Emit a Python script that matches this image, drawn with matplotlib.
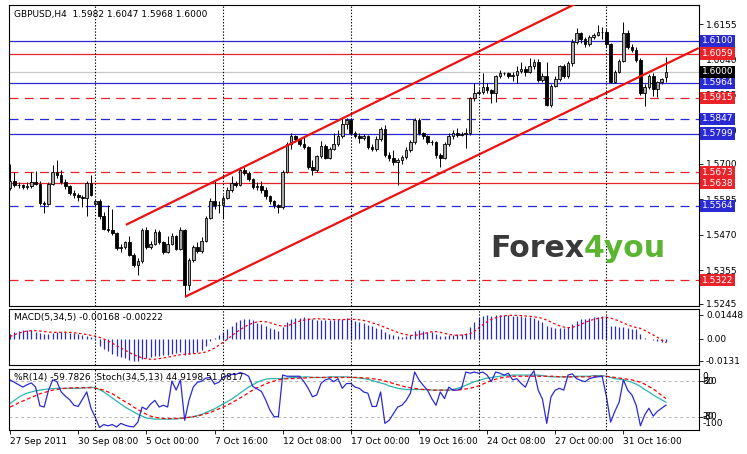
import numpy as np
import matplotlib.pyplot as plt

plt.rcParams['font.family'] = ['DejaVu Sans']
FS = 6.5

# ---- GBPUSD H4 candles (price * 10000) ----
opens = [15622, 15643, 15632, 15630, 15625, 15628, 15642, 15636, 15573, 15570,
         15635, 15675, 15665, 15640, 15627, 15605, 15598, 15594, 15588, 15637,
         15570, 15578, 15530, 15490, 15485, 15475, 15426, 15430, 15445, 15405,
         15372, 15385, 15485, 15430, 15440, 15480, 15445, 15415, 15440, 15465,
         15425, 15485, 15305, 15388, 15430, 15418, 15450, 15525, 15580, 15565,
         15568, 15590, 15616, 15637, 15632, 15680, 15672, 15650, 15625, 15628,
         15615, 15595, 15578, 15565, 15560, 15675, 15765, 15790, 15780, 15765,
         15755, 15690, 15680, 15725, 15760, 15720, 15750, 15765, 15790, 15830,
         15843, 15800, 15792, 15785, 15790, 15756, 15748, 15780, 15815, 15730,
         15718, 15705, 15712, 15722, 15745, 15770, 15843, 15800, 15790, 15772,
         15770, 15730, 15720, 15765, 15790, 15800, 15795, 15798, 15800, 15913,
         15930, 15935, 15951, 15940, 15930, 15985, 15997, 15995, 15985, 15990,
         16003, 16010, 16000, 16017, 16033, 15973, 15985, 15892, 15955, 15975,
         16017, 15985, 16027, 16098, 16125, 16105, 16090, 16114, 16120, 16128,
         16130, 16090, 15968, 16000, 16035, 16125, 16082, 16071, 16038, 15930,
         15950, 15985, 15945, 15965, 15982]
highs = [15700, 15675, 15640, 15635, 15640, 15675, 15676, 15645, 15580, 15640,
         15697, 15713, 15680, 15650, 15632, 15615, 15605, 15600, 15645, 15665,
         15585, 15585, 15545, 15565, 15555, 15480, 15440, 15450, 15465, 15410,
         15395, 15492, 15495, 15448, 15488, 15485, 15450, 15465, 15475, 15470,
         15495, 15490, 15395, 15435, 15445, 15462, 15530, 15590, 15645, 15580,
         15600, 15625, 15660, 15645, 15690, 15690, 15678, 15655, 15640, 15645,
         15625, 15600, 15582, 15570, 15680, 15772, 15800, 15795, 15785, 15790,
         15760, 15712, 15730, 15775, 15765, 15755, 15800, 15810, 15849, 15849,
         15850, 15808, 15800, 15798, 15795, 15765, 15790, 15820, 15826, 15740,
         15745, 15720, 15728, 15755, 15778, 15848, 15848, 15805, 15795, 15778,
         15775, 15735, 15770, 15800, 15810, 15818, 15805, 15818, 15918, 15962,
         15945, 15995, 15962, 15945, 15990, 16006, 16000, 16000, 15998, 16017,
         16033, 16017, 16044, 16040, 16040, 15995, 16030, 15960, 15985, 16022,
         16025, 16035, 16105, 16141, 16130, 16112, 16120, 16125, 16152, 16145,
         16138, 16095, 16005, 16040, 16163, 16135, 16090, 16080, 16045, 15960,
         15992, 15995, 15970, 15980, 16047]
lows = [15615, 15625, 15622, 15618, 15617, 15622, 15630, 15568, 15540, 15565,
        15630, 15655, 15635, 15620, 15600, 15590, 15578, 15561, 15530, 15595,
        15560, 15520, 15485, 15480, 15470, 15420, 15415, 15425, 15400, 15365,
        15340, 15378, 15425, 15425, 15435, 15440, 15408, 15410, 15435, 15420,
        15420, 15268, 15290, 15380, 15412, 15412, 15445, 15520, 15555, 15540,
        15525, 15585, 15610, 15625, 15628, 15665, 15645, 15620, 15615, 15605,
        15585, 15570, 15558, 15541, 15555, 15670, 15750, 15770, 15760, 15748,
        15685, 15665, 15675, 15720, 15715, 15715, 15745, 15760, 15785, 15815,
        15795, 15785, 15767, 15778, 15750, 15742, 15742, 15775, 15722, 15710,
        15695, 15632, 15700, 15715, 15740, 15765, 15795, 15780, 15765, 15762,
        15718, 15691, 15715, 15760, 15782, 15788, 15790, 15752, 15795, 15905,
        15925, 15928, 15930, 15897, 15903, 15980, 15988, 15980, 15970, 15962,
        15995, 15985, 15995, 16010, 15968, 15965, 15887, 15885, 15950, 15970,
        15980, 15980, 16020, 16090, 16095, 16082, 16085, 16105, 16115, 16105,
        16082, 15962, 15962, 15995, 16030, 16075, 16065, 16030, 15925, 15887,
        15945, 15920, 15919, 15960, 15968]
closes = [15643, 15632, 15630, 15625, 15628, 15642, 15636, 15573, 15570, 15635,
          15675, 15665, 15640, 15627, 15605, 15598, 15594, 15588, 15637, 15600,
          15578, 15530, 15490, 15485, 15475, 15426, 15430, 15445, 15405, 15372,
          15385, 15485, 15430, 15440, 15480, 15445, 15415, 15440, 15465, 15425,
          15485, 15305, 15388, 15430, 15418, 15450, 15525, 15580, 15565, 15568,
          15590, 15616, 15637, 15632, 15680, 15672, 15650, 15625, 15628, 15615,
          15595, 15578, 15565, 15560, 15675, 15765, 15790, 15780, 15765, 15755,
          15690, 15680, 15725, 15760, 15720, 15750, 15765, 15790, 15830, 15843,
          15800, 15792, 15785, 15790, 15756, 15748, 15780, 15815, 15730, 15718,
          15705, 15712, 15722, 15745, 15770, 15843, 15800, 15790, 15772, 15770,
          15730, 15720, 15765, 15790, 15800, 15795, 15798, 15800, 15913, 15930,
          15935, 15951, 15940, 15930, 15985, 15997, 15995, 15985, 15990, 16003,
          16010, 16000, 16017, 16033, 15973, 15985, 15892, 15955, 15975, 16017,
          15985, 16027, 16098, 16125, 16105, 16090, 16114, 16120, 16128, 16130,
          16090, 15968, 16000, 16035, 16125, 16082, 16071, 16038, 15930, 15950,
          15985, 15945, 15965, 15975, 16000]

# ---- MACD(5,34,5), units of 0.0001 ----
macd_hist = [30, 40, 48, 52, 55, 52, 45, 38, 30, 32, 38, 42, 44, 42, 38, 34, 30, 24, 18, 14, 8,
             -40, -60, -75, -88, -100, -108, -115, -124, -130, -131,
             -118, -115, -110, -104, -100, -98, -94, -88, -86, -80,
             -95, -92, -84, -78, -66, -40, -15, 5, 25, 45,
             62, 78, 100, 115, 122, 120, 112, 96, 88, 78,
             68, 58, 50, 72, 100, 120, 128, 128,
             135, 125, 118, 114, 112, 112, 114, 116, 118, 122,
             124, 118, 110, 102, 94, 86, 76, 66, 58, 42,
             30, 22, 16, 14, 18, 24, 48, 52, 50, 44,
             40, 30, 20, 18, 22, 26, 28, 30, 34, 70,
             100, 125, 138, 142, 140, 144, 145, 144, 142, 140,
             138, 136, 132, 130, 126, 112, 100, 80, 70, 66,
             68, 66, 72, 90, 108, 118, 122, 126, 130, 134,
             138, 140, 80, 76, 72, 70, 64, 62, 58, 30, 6, 0, -8, -14, -16, -16.8]
macd_signal = [15, 25, 35, 42, 48, 50, 50, 48, 45, 42, 40, 40, 41, 41, 40, 38, 35, 31, 27, 22, 17,
               10, 0, -12, -26, -40, -54, -68, -82, -94, -105,
               -114, -120, -122, -122, -119, -114, -110, -105, -100, -95,
               -92, -90, -89, -87, -84, -78, -68, -55,
               -38, -20, -2, 18, 38, 56, 72, 86, 96, 103,
               106, 104, 98, 90, 82, 78, 80, 88, 98, 108,
               114, 118, 121, 122, 121, 120, 118, 117, 116, 117,
               118, 119, 118, 116, 112, 106, 98, 90, 80, 70,
               60, 50, 40, 32, 26, 22, 22, 26, 32, 38,
               44, 44, 40, 34, 28, 24, 22, 24, 26, 32, 46, 66,
               86, 104, 118, 128, 136, 140, 142, 143, 142, 141,
               139, 137, 134, 130, 124, 114, 102, 90, 80, 72,
               68, 70, 78, 88, 100, 110, 118, 124, 128, 131,
               126, 118, 108, 96, 86, 76, 70, 64, 52, 38, 24, 10, -8, -22.2]

# ---- %R(14) shifted by +100, Stoch(34,5,13) main / signal ----
wpr = [82, 78, 74, 70, 74, 77, 70, 39, 37, 64, 82, 79, 62, 55, 49, 40, 38, 50, 62, 35, 20,
       3, 8, 6, 8, 4, 10, 7, 5, 4, 12,
       37, 33, 42, 48, 37, 40, 37, 80, 65, 82,
       15, 48, 70, 78, 80, 85, 86, 75, 78, 86,
       89, 91, 91, 94, 92, 88, 71, 67, 63, 49,
       32, 21, 21, 90, 88, 88, 88, 88,
       79, 68, 54, 57, 76, 82, 84, 79, 84, 68,
       76, 76, 70, 68, 62, 60, 38, 38, 62, 10,
       15, 26, 37, 40, 48, 60, 95, 82, 73, 65,
       51, 40, 62, 51, 70, 65, 65, 68, 95, 93,
       95, 93, 95, 90, 79, 95, 93, 90, 93, 82,
       84, 76, 70, 87, 97, 65, 50, 10, 54, 65,
       68, 65, 90, 92, 84, 81, 79, 84, 86, 87,
       88, 55, 12, 30, 45, 82, 65, 57, 40, 6, 24, 35, 22, 30, 35, 40.2174]
stoch_main = [43, 48, 53, 57, 60, 62, 64, 65, 66, 67,
              67.5, 68, 68, 68, 68, 68, 68, 68.5, 69, 70,
              69, 66, 62, 57, 52, 47, 42, 37, 33, 29,
              25, 22, 19, 18, 17, 17, 17, 17, 17, 17.5,
              18, 19, 20, 21, 23, 25, 28, 31, 34, 38,
              42, 46, 50, 55, 60, 65, 70, 74, 78, 81,
              83, 84, 84, 84, 84, 85, 86, 86, 86,
              87, 87, 86, 86, 86, 86, 87, 87, 87, 87,
              87, 86, 86, 85, 84, 83, 81, 79, 77, 75,
              72, 70, 68, 67, 66, 66, 66, 66, 66, 66,
              65, 65, 65, 65, 65, 66, 68, 70, 73, 76,
              79, 81, 83, 85, 86, 87, 88, 89, 89, 90,
              90, 90, 90, 90, 90, 90, 89, 88, 87, 87,
              87, 87, 87, 87, 88, 88, 88, 88, 89, 89,
              89, 88, 86, 84, 83, 82, 80, 78, 75, 71,
              66, 62, 57, 53, 49, 44.9198]
stoch_signal = [37, 40, 44, 47, 50, 53, 56, 59, 61, 63,
                65, 66, 67, 68, 68.5, 69, 69, 69, 69, 69,
                68, 67, 65, 62, 59, 55, 50, 46, 42, 37,
                33, 29, 25, 22, 20, 19, 18, 18, 18, 18,
                18.5, 19, 20, 21, 22, 24, 26, 28, 31, 34,
                37, 40, 44, 48, 52, 56, 61, 65, 69, 72,
                75, 78, 80, 82, 83, 84, 84, 84.5, 85,
                85, 85.5, 86, 86, 86, 86, 86, 86, 86, 86, 86, 86, 86, 86,
                85, 85, 84, 83, 82, 80, 78, 76, 74, 72, 70, 69, 68, 67, 66, 66,
                65, 65, 65, 65, 65, 65, 65,
                66, 67, 68, 70, 72, 75, 78, 81, 83, 85, 86, 87,
                88, 88, 88, 88, 88, 88, 88, 88, 88, 88, 88,
                87, 87, 87, 87, 87, 87, 87, 87,
                88, 88, 88, 88,
                87, 86, 85, 84, 83, 82, 80, 78, 75, 71, 67, 62, 56, 51.0817]

for arr in (opens, highs, lows, macd_hist, macd_signal, wpr, stoch_main, stoch_signal):
    assert len(arr) == len(closes), len(arr)

# horizontal levels drawn on the chart
level_prices = [1.6100, 1.6059, 1.5964, 1.5915, 1.5847, 1.5799, 1.5673, 1.5638, 1.5564, 1.5322]
level_kind = ['b', 'r', 'b', 'r', 'b', 'b', 'r', 'r', 'b', 'r']
level_dashed = [False, False, False, True, True, False, True, False, True, True]

# channel anchors (bar index, price)
upper_channel = [(27.2, 1.5502), (140.0, 1.6270)]
lower_channel = [(41.1, 1.5268), (161.7, 1.6077)]

price_ticks = [1.6155, 1.6040, 1.5925, 1.5810, 1.5700, 1.5585, 1.5470, 1.5355, 1.5245]
week_bars = [20, 50, 80, 110, 140]
xlabel_bars = [0, 16, 32, 48, 64, 80, 96, 112, 128, 144]
xlabels = ['27 Sep 2011', '30 Sep 08:00', '5 Oct 00:00', '7 Oct 16:00', '12 Oct 08:00',
           '17 Oct 00:00', '19 Oct 16:00', '24 Oct 08:00', '27 Oct 00:00', '31 Oct 16:00']

BLUE = '#2a2ad2'
RED = '#e8232a'
W, H = 747, 454
fig = plt.figure(figsize=(W / 100, H / 100), dpi=100)


def box(x0, y0, x1, y1):
    return [x0 / W, 1 - y1 / H, (x1 - x0) / W, (y1 - y0) / H]


ax = fig.add_axes(box(9, 5, 699, 306))
axm = fig.add_axes(box(9, 309, 699, 365), sharex=ax)
axs = fig.add_axes(box(9, 369, 699, 430), sharex=ax)

x = np.arange(len(closes))
o = np.array(opens) / 1e4
h = np.array(highs) / 1e4
l = np.array(lows) / 1e4
c = np.array(closes) / 1e4

# levels
for p, k, d in zip(level_prices, level_kind, level_dashed):
    col = BLUE if k == 'b' else RED
    if d:
        ax.axhline(p, color=col, lw=0.9, dashes=(7.2, 5), zorder=2)
    else:
        ax.axhline(p, color=col, lw=0.9, zorder=2)
ax.axhline(c[-1], color='#c8c8c8', lw=0.9, zorder=1)

# candles
up = c >= o
ax.vlines(x, l, h, color='black', lw=0.7, zorder=3)
ax.bar(x[up], np.maximum(c - o, 0.00003)[up], bottom=o[up], width=0.62,
       color='#a8a8a8', edgecolor='black', lw=0.6, zorder=4)
ax.bar(x[~up], (o - c)[~up], bottom=c[~up], width=0.62,
       color='black', edgecolor='black', lw=0.6, zorder=4)

# channel
for ch in (upper_channel, lower_channel):
    ax.plot([ch[0][0], ch[1][0]], [ch[0][1], ch[1][1]], color='#ee1111', lw=1.6,
            zorder=5, solid_capstyle='butt')

ax.set_xlim(-0.25, 161.75)
ax.set_ylim(1.5238, 1.6217)
ax.yaxis.tick_right()
ax.set_yticks(price_ticks)
ax.set_yticklabels(['%.4f' % t for t in price_ticks])

# price boxes at right
for p, k in zip(level_prices, level_kind):
    ax.text(1.0045, p, '%.4f' % p, transform=ax.get_yaxis_transform(), color='white',
            fontsize=FS, va='center', ha='left', zorder=10,
            bbox=dict(boxstyle='square,pad=0.18', fc=BLUE if k == 'b' else RED, ec='none'))
ax.text(1.0045, c[-1], '%.4f' % c[-1], transform=ax.get_yaxis_transform(), color='white',
        fontsize=FS, va='center', ha='left', zorder=10,
        bbox=dict(boxstyle='square,pad=0.18', fc='black', ec='none'))

ax.text(0.007, 0.982, 'GBPUSD,H4  %.4f %.4f %.4f %.4f' % (o[-1], h[-1], l[-1], c[-1]),
        transform=ax.transAxes, fontsize=FS, va='top', ha='left')

# MACD
mh = np.array(macd_hist) / 1e4
ms = np.array(macd_signal) / 1e4
axm.vlines(x, 0, mh, color=BLUE, lw=0.9)
axm.plot(x, ms, color='red', lw=0.9, dashes=(2, 2))
axm.set_ylim(-0.0157, 0.0181)
axm.yaxis.tick_right()
axm.set_yticks([0.01448, 0.0, -0.0131])
axm.set_yticklabels(['0.01448', '0.00', '-0.0131'])
axm.text(0.007, 0.93, 'MACD(5,34,5) %.5f %.5f' % (mh[-1], ms[-1]),
         transform=axm.transAxes, fontsize=FS, va='top', ha='left')

# %R + Stochastic
axs.axhline(80, color='#b4b4b4', lw=0.7, dashes=(3, 3))
axs.axhline(20, color='#b4b4b4', lw=0.7, dashes=(3, 3))
axs.plot(x, stoch_main, color='#2ab5ad', lw=0.9)
axs.plot(x, stoch_signal, color='red', lw=0.9, dashes=(3, 2))
axs.plot(x, wpr, color=BLUE, lw=0.9)
axs.set_ylim(-1, 100)
axs.yaxis.tick_right()
axs.set_yticks([80, 20])
axs.set_yticklabels(['', ''])
yt = axs.get_yaxis_transform()
# MT4 prints both indicator scales on top of each other here
for v, s in [(88, '0'), (80, '-20'), (80, '80'), (22, '20'), (22, '-80'), (10.5, '-100')]:
    axs.text(1.0045, v, s, transform=yt, fontsize=FS, va='center', ha='left')
axs.text(0.007, 0.93, '%%R(14) %.4f  Stoch(34,5,13) %.4f %.4f'
         % (wpr[-1] - 100, stoch_main[-1], stoch_signal[-1]),
         transform=axs.transAxes, fontsize=FS, va='top', ha='left')

for a in (ax, axm, axs):
    for b in week_bars:
        a.axvline(b, color='black', lw=0.8, dashes=(1.2, 1.6), zorder=6)
    for s in a.spines.values():
        s.set_linewidth(0.8)
    a.tick_params(axis='y', labelsize=FS, length=3, width=0.6, pad=2)
    a.tick_params(axis='x', labelsize=FS, length=3, width=0.6, pad=2)

ax.tick_params(axis='x', labelbottom=False, length=0)
axm.tick_params(axis='x', labelbottom=False, length=0)
axs.set_xticks(xlabel_bars)
axs.set_xticklabels(xlabels, ha='left')

# logo
t1 = fig.text(490 / W, 1 - 257 / H, 'Forex', fontsize=21.5, fontweight='bold',
              color='#3a3a3a', va='baseline', ha='left')
fig.canvas.draw()
bb = t1.get_window_extent()
fig.text(bb.x1 / W, 1 - 257 / H, '4you', fontsize=21.5, fontweight='bold',
         color='#5cb531', va='baseline', ha='left')

fig.savefig('out.png', dpi=100, facecolor='white')
